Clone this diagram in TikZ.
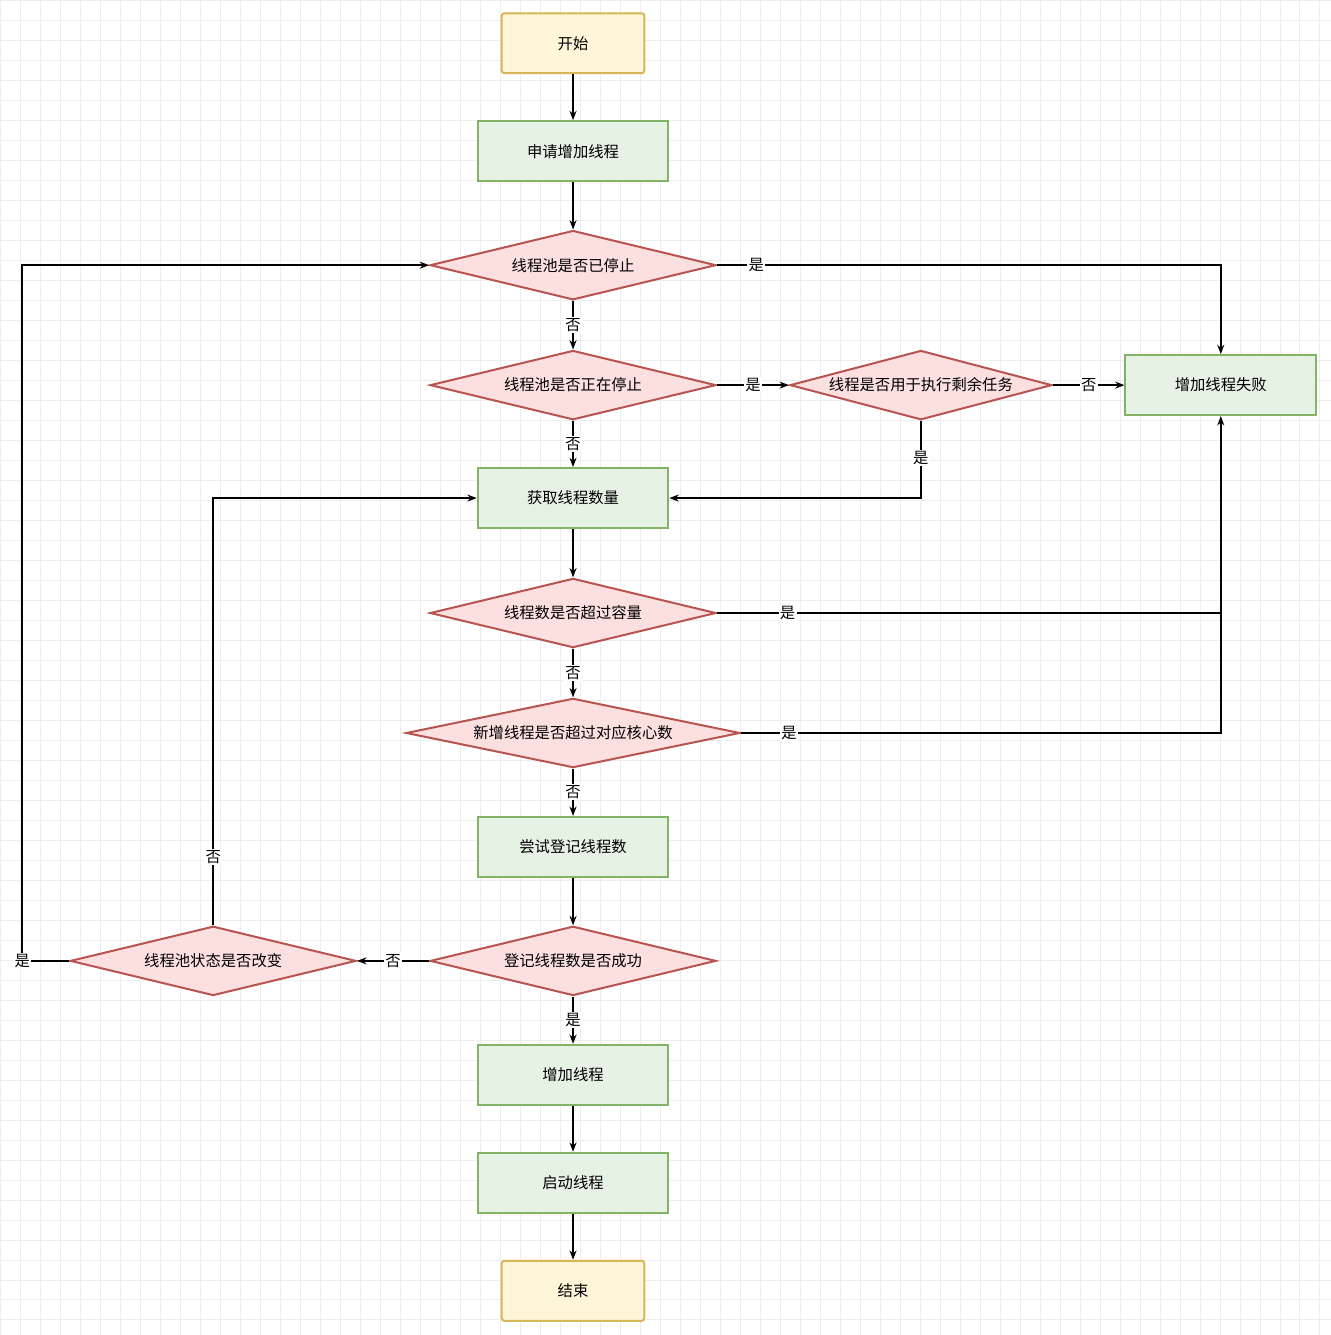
\documentclass[tikz,border=0pt]{standalone}
\usepackage{fontspec}
\setmainfont{Noto Sans CJK SC}
\usetikzlibrary{shapes.geometric,arrows.meta}
\definecolor{yb}{HTML}{D6B656}\definecolor{yf}{HTML}{FFF6D9}
\definecolor{gb}{HTML}{82B366}\definecolor{gf}{HTML}{E6F2E3}
\definecolor{rb}{HTML}{B85450}\definecolor{rf}{HTML}{FBE0DF}
\begin{document}
\begin{tikzpicture}[x=0.75pt,y=-0.75pt,font=\fontsize{11.5}{13}\selectfont,
 term/.style={draw=yb,fill=yf,line width=1.5pt,minimum width=107pt,minimum height=45pt,rounded corners=2pt},
 proc/.style={draw=gb,fill=gf,line width=1.5pt,minimum width=143pt,minimum height=45pt},
 dec/.style={diamond,draw=rb,fill=rf,line width=1.5pt,inner sep=0pt,minimum width=#1*0.75pt,minimum height=52pt,aspect=4},
 arr/.style={-{Stealth[length=7pt]},line width=1.3pt},
 lab/.style={fill=white,inner sep=1pt}]
\fill[white] (0,0) rectangle (1331,1335);
\draw[black!7] \foreach \i in {0,20,...,1331} {(\i,0) -- (\i,1335)};
\draw[black!7] \foreach \i in {0,20,...,1335} {(0,\i) -- (1331,\i)};
\useasboundingbox (0,0) rectangle (1331,1335);
\node[term] (start) at (573,43) {开始};
\node[proc] (req) at (573,151) {申请增加线程};
\node[dec=286] (d1) at (573,265) {线程池是否已停止};
\node[dec=286] (d2) at (573,385) {线程池是否正在停止};
\node[dec=262] (d3) at (921,385) {线程是否用于执行剩余任务};
\node[proc] (fail) at (1221,385) {增加线程失败};
\node[proc] (get) at (573,498) {获取线程数量};
\node[dec=286] (d4) at (573,613) {线程数是否超过容量};
\node[dec=334] (d5) at (573,733) {新增线程是否超过对应核心数};
\node[proc] (try) at (573,847) {尝试登记线程数};
\node[dec=286] (d6) at (573,961) {登记线程数是否成功};
\node[dec=286] (d7) at (213,961) {线程池状态是否改变};
\node[proc] (add) at (573,1075) {增加线程};
\node[proc] (run) at (573,1183) {启动线程};
\node[term] (end) at (573,1291) {结束};
\coordinate (c1) at (22,961); \coordinate (c2) at (22,265);
\coordinate (c3) at (213,498);
\draw[arr] (start) -- (req);
\draw[arr] (req) -- (d1);
\draw[arr] (d1.east) -| node[lab,pos=0.039]{是} (fail.north);
\draw[arr] (d1) -- node[lab]{否} (d2);
\draw[arr] (d2) -- node[lab]{是} (d3);
\draw[arr] (d3) -- node[lab]{否} (fail);
\draw[arr] (d3.south) |- node[lab,pos=0.24]{是} (get.east);
\draw[arr] (d2) -- node[lab]{否} (get);
\draw[arr] (get) -- (d4);
\draw[arr] (d4.east) -| node[lab,pos=0.07]{是} (fail.south);
\draw[line width=1.3pt] (d5.east) -- node[lab,pos=0.1]{是} (1221,733) -- (1221,613);
\draw[arr] (d4) -- node[lab]{否} (d5);
\draw[arr] (d5) -- node[lab]{否} (try);
\draw[arr] (try) -- (d6);
\draw[arr] (d6) -- node[lab]{否} (d7);
\draw[arr] (d7.west) -- node[lab,pos=1]{是} (c1) -- (c2) -- (d1.west);
\draw[arr] (d7.north) -- node[lab,pos=0.16]{否} (c3) -- (get.west);
\draw[arr] (d6) -- node[lab]{是} (add);
\draw[arr] (add) -- (run);
\draw[arr] (run) -- (end);
\end{tikzpicture}
\end{document}
